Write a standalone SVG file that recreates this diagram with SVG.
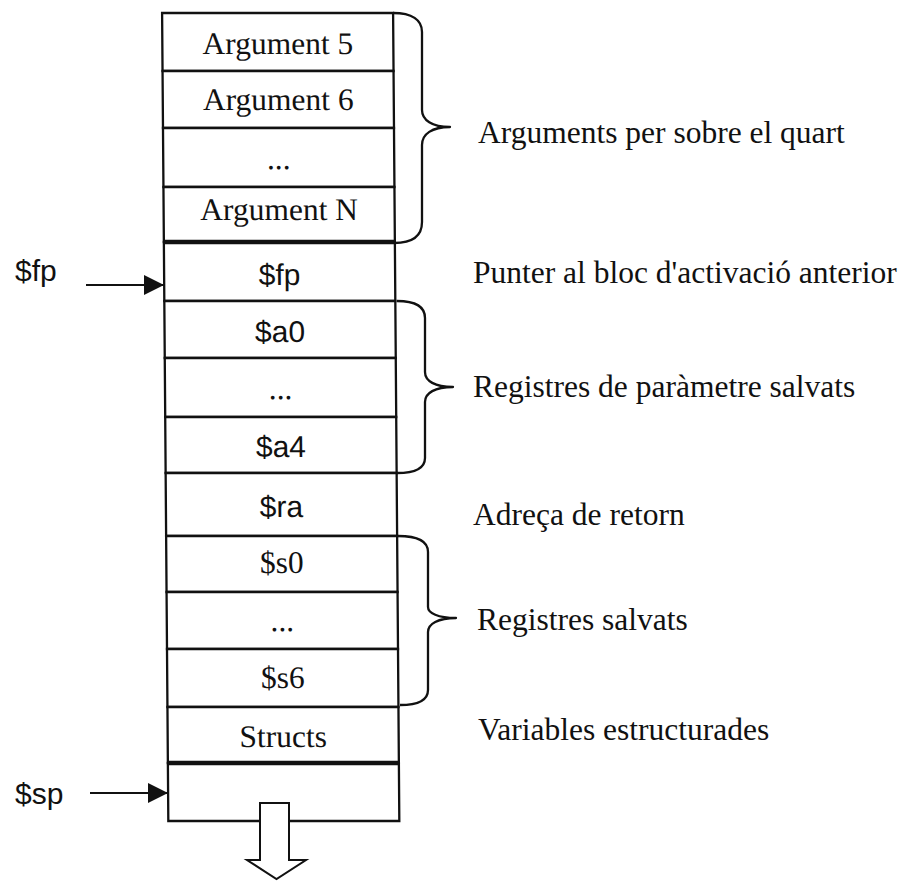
<svg xmlns="http://www.w3.org/2000/svg" width="910" height="881" viewBox="0 0 910 881">
  <style>
    .cell { fill: #fff; stroke: #111; stroke-width: 2.3; }
    .sep-thick { fill: none; stroke: #111; stroke-width: 4.5; }
    .serif { font-family: "Liberation Serif", "Times New Roman", serif; font-size: 31.5px; fill: #111; }
    .sans { font-family: "Liberation Sans", Arial, sans-serif; font-size: 30px; fill: #111; }
    .mid { text-anchor: middle; }
    .brace { fill: none; stroke: #111; stroke-width: 2.3; stroke-linejoin: round; }
    .ptr { fill: none; stroke: #111; stroke-width: 2; }
    .grow { fill: #fff; stroke: #111; stroke-width: 2; stroke-linejoin: miter; }
  </style>
  <defs>
    <marker id="head" markerUnits="userSpaceOnUse" markerWidth="21" markerHeight="21" refX="20" refY="10" orient="auto">
      <path d="M0,0 L20,10 L0,20 z" fill="#111"/>
    </marker>
  </defs>

  <rect width="910" height="881" fill="#fff"/>

  <!-- activation frame, one cell per slot (slightly leaning as printed) -->
  <g id="stack" transform="matrix(1 0 0.0077 1 0 0)">
    <g id="cell-arg5"><rect class="cell" x="162" y="13" width="231" height="58"/><text class="serif mid" x="277.5" y="54">Argument 5</text></g>
    <g id="cell-arg6"><rect class="cell" x="162" y="71" width="231" height="57"/><text class="serif mid" x="277.5" y="110">Argument 6</text></g>
    <g id="cell-argdots"><rect class="cell" x="162" y="128" width="231" height="59"/><text class="serif mid" x="277.5" y="169">...</text></g>
    <g id="cell-argN"><rect class="cell" x="162" y="187" width="231" height="55"/><text class="serif mid" x="277.5" y="220">Argument N</text></g>
    <g id="cell-fp"><rect class="cell" x="162" y="242" width="231" height="59"/><text class="sans mid" x="277.5" y="285">$fp</text></g>
    <g id="cell-a0"><rect class="cell" x="162" y="301" width="231" height="57"/><text class="sans mid" x="277.5" y="342">$a0</text></g>
    <g id="cell-adots"><rect class="cell" x="162" y="358" width="231" height="59"/><text class="serif mid" x="277.5" y="399">...</text></g>
    <g id="cell-a4"><rect class="cell" x="162" y="417" width="231" height="56"/><text class="sans mid" x="277.5" y="457">$a4</text></g>
    <g id="cell-ra"><rect class="cell" x="162" y="473" width="231" height="63"/><text class="sans mid" x="277.5" y="517">$ra</text></g>
    <g id="cell-s0"><rect class="cell" x="162" y="536" width="231" height="56"/><text class="serif mid" x="277.5" y="573">$s0</text></g>
    <g id="cell-sdots"><rect class="cell" x="162" y="592" width="231" height="57"/><text class="serif mid" x="277.5" y="631">...</text></g>
    <g id="cell-s6"><rect class="cell" x="162" y="649" width="231" height="58"/><text class="serif mid" x="277.5" y="688">$s6</text></g>
    <g id="cell-structs"><rect class="cell" x="162" y="707" width="231" height="56"/><text class="serif mid" x="277.5" y="747">Structs</text></g>
    <g id="cell-free"><rect class="cell" x="162" y="763" width="231" height="58"/></g>
    <!-- frame boundaries -->
    <line class="sep-thick" x1="162" y1="242" x2="393" y2="242"/>
    <line class="sep-thick" x1="162" y1="763" x2="393" y2="763"/>
    <line class="ptr" x1="162" y1="473" x2="393" y2="473" stroke-width="3"/>
  </g>

  <!-- growth direction -->
  <g id="grow-arrow">
    <polygon class="grow" points="260,803 289,803 289,860 306,860 276.5,879 247,860 260,860"/>
  </g>

  <!-- pointer labels -->
  <g id="label-fp"><text class="sans" x="15" y="281">$fp</text></g>
  <g id="label-sp"><text class="sans" x="15" y="804">$sp</text></g>

  <!-- group annotations -->
  <g id="note-args"><text class="serif" x="478" y="143">Arguments per sobre el quart</text></g>
  <g id="note-fp"><text class="serif" x="473" y="283">Punter al bloc d'activació anterior</text></g>
  <g id="note-aregs"><text class="serif" x="473" y="397">Registres de paràmetre salvats</text></g>
  <g id="note-ra"><text class="serif" x="473" y="525">Adreça de retorn</text></g>
  <g id="note-sregs"><text class="serif" x="477" y="630">Registres salvats</text></g>
  <g id="note-structs"><text class="serif" x="478" y="740">Variables estructurades</text></g>

  <!-- connectors: pointer arrows and braces -->
  <g id="connectors">
    <line class="ptr" x1="86" y1="285" x2="164" y2="285" marker-end="url(#head)"/>
    <line class="ptr" x1="90" y1="793" x2="168" y2="793" marker-end="url(#head)"/>
    <path class="brace" d="M393,13 C412,13 422,20 422,32 L422,110 C422,120 432,127 450,127 C432,127 422,134 422,145 L422,222 C422,236 412,243 394,243"/>
    <path class="brace" d="M397,301 C415,301 425,306 425,318 L425,372 C425,381 435,387 453,387 C435,387 425,393 425,402 L425,458 C425,468 415,473 397,473"/>
    <path class="brace" d="M398,536 C418,536 428,541 428,552 L428,607 C428,613 438,618 456,618 C438,618 428,624 428,632 L428,690 C428,700 418,705 400,705"/>
  </g>
</svg>
